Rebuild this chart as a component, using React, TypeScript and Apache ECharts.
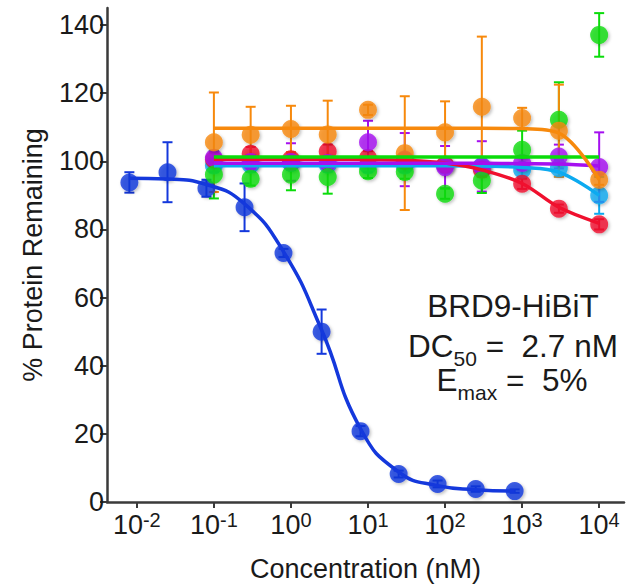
import React, { useEffect, useRef } from "react";
import * as echarts from "echarts";

// ---- data ----
const blueConc = [0.008, 0.025, 0.08, 0.25, 0.8, 2.5, 8, 25, 80, 250, 800];
const blueMean = [93.8, 96.8, 92.1, 86.5, 73.1, 50.0, 20.8, 8.2, 5.3, 3.8, 3.2];
const blueErr = [3, 8.8, 2.5, 7, 1.2, 6.5, 1.5, 1, 1, 0.8, 0.5];
const blueFit = [95.0, 94.8, 93.2, 87.5, 73.5, 50.5, 21.5, 8.8, 4.8, 3.6, 3.2];

const ctrlConc = [0.1, 0.3, 1, 3, 10, 30, 100, 300, 1000, 3000, 10000];

const cyanMean = [98.8, 99.0, 99.5, 99.0, 98.8, 98.8, 98.8, 98.6, 97.5, 98.0, 90.0];
const cyanErr = [2, 2, 2, 2, 2, 2, 2, 2, 2, 2.5, 5.4];
const cyanFit = [98.7, 98.7, 98.7, 98.7, 98.7, 98.7, 98.7, 98.6, 98.2, 96.8, 90.0];

const redMean = [100.5, 102.2, 100.6, 102.9, 101.0, 100.2, 99.0, 97.5, 93.4, 86.1, 81.5];
const redErr = [2, 2, 2, 2, 2, 2, 2, 2, 1.5, 1.2, 1.5];
const redFit = [100.6, 100.6, 100.6, 100.6, 100.5, 100.3, 99.5, 97.5, 93.5, 86.5, 81.8];

const purpleMean = [101.0, 99.8, 99.8, 99.5, 105.6, 100.5, 98.3, 98.5, 99.5, 101.4, 98.3];
const purpleErr = [2, 2, 5.5, 2, 6.3, 7.8, 6.2, 7.4, 2, 3.5, 10.2];
const purpleFit = [99.4, 99.4, 99.4, 99.4, 99.4, 99.4, 99.4, 99.4, 99.3, 99.2, 98.6];

const greenMean = [96.1, 94.9, 96.1, 95.4, 97.1, 96.9, 90.5, 94.4, 103.4, 112.2, 137.1];
const greenErr = [7, 2, 4.6, 4.9, 2, 2, 1.5, 3.7, 5.6, 11, 6.4];
const greenFit = [101.3, 101.3, 101.3, 101.3, 101.3, 101.3, 101.3, 101.3, 101.3, 101.3, 101.3];

const orangeMean = [105.6, 107.8, 109.5, 107.9, 115.1, 102.4, 108.5, 116.0, 112.7, 109.0, 94.6];
const orangeErr = [14.6, 8.2, 6.8, 9.9, 1.5, 16.7, 9.1, 20.6, 3, 13.5, 1.5];
const orangeFit = [109.7, 109.7, 109.7, 109.7, 109.7, 109.7, 109.7, 109.7, 109.6, 108.3, 94.6];

const xTicks = [0.01, 0.1, 1, 10, 100, 1000, 10000];
const yTicks = [0, 20, 40, 60, 80, 100, 120, 140];

const COLORS = {
  blue: "#1438dc",
  cyan: "#0caaf0",
  red: "#f0102e",
  purple: "#a50ff0",
  green: "#0adc0a",
  orange: "#f7890c",
};

const FONT = "'Liberation Sans', Arial, Helvetica, sans-serif";
const TEXT = "#1a1a1a";
const AXIS = "#3a3a3a";

function errorSeries(conc: number[], mean: number[], err: number[], color: string) {
  return {
    type: "custom",
    silent: true,
    data: conc.map((c, i) => [c, mean[i] - err[i], mean[i] + err[i]]),
    encode: { x: 0, y: [1, 2] },
    renderItem: (params: any, api: any) => {
      const x = api.value(0);
      const lo = api.coord([x, api.value(1)]);
      const hi = api.coord([x, api.value(2)]);
      const hw = 5;
      const style = { stroke: color, lineWidth: 2, fill: "none" };
      return {
        type: "group",
        children: [
          { type: "line", shape: { x1: lo[0], y1: lo[1], x2: hi[0], y2: hi[1] }, style },
          { type: "line", shape: { x1: lo[0] - hw, y1: lo[1], x2: lo[0] + hw, y2: lo[1] }, style },
          { type: "line", shape: { x1: hi[0] - hw, y1: hi[1], x2: hi[0] + hw, y2: hi[1] }, style },
        ],
      };
    },
  };
}

function fitSeries(conc: number[], fit: number[], color: string, smooth: number | false) {
  return {
    type: "line",
    silent: true,
    showSymbol: false,
    symbol: "none",
    smooth,
    data: conc.map((c, i) => [c, fit[i]]),
    lineStyle: { color, width: 3.5 },
  };
}

function pointSeries(conc: number[], mean: number[], color: string) {
  return {
    type: "scatter",
    silent: true,
    symbol: "circle",
    symbolSize: 18,
    data: conc.map((c, i) => [c, mean[i]]),
    itemStyle: {
      color,
      shadowBlur: 3,
      shadowOffsetX: 1.5,
      shadowOffsetY: 1.5,
      shadowColor: "rgba(0,0,0,0.3)",
    },
  };
}

function group(conc: number[], mean: number[], err: number[], fit: number[], color: string, smooth: number | false = 0.35) {
  return [
    errorSeries(conc, mean, err, color),
    fitSeries(conc, fit, color, smooth),
    pointSeries(conc, mean, color),
  ];
}

const annotRich = {
  a: { fontFamily: FONT, fontSize: 31.5, fill: TEXT },
  sub: { fontFamily: FONT, fontSize: 21, fill: TEXT, padding: [24, 0, 0, 0] },
};

export default function App() {
  const ref = useRef<HTMLDivElement>(null);

  useEffect(() => {
    if (!ref.current) return;
    const chart = echarts.init(ref.current, undefined, { renderer: "svg" });
    const option: any = {
      animation: false,
      backgroundColor: "#ffffff",
      grid: { left: 107, right: 2, top: 8, bottom: 84, containLabel: false },
      xAxis: {
        type: "log",
        logBase: 10,
        min: 0.0041,
        max: 21000,
        name: "Concentration (nM)",
        nameLocation: "middle",
        nameGap: 53,
        nameTextStyle: { fontFamily: FONT, fontSize: 27, color: TEXT },
        axisLine: { show: true, onZero: false, lineStyle: { color: AXIS, width: 2.5 } },
        axisTick: { show: true, customValues: xTicks, length: 6, lineStyle: { color: AXIS, width: 2 } },
        minorTick: { show: false },
        splitLine: { show: false },
        axisLabel: {
          customValues: xTicks,
          margin: 8,
          formatter: (v: number) => `{b|10}{s|${Math.round(Math.log10(v))}}`,
          rich: {
            b: { fontFamily: FONT, fontSize: 27, color: TEXT, lineHeight: 30 },
            s: { fontFamily: FONT, fontSize: 20, color: TEXT, lineHeight: 16, verticalAlign: "top" },
          },
        },
      },
      yAxis: {
        type: "value",
        min: 0,
        max: 145,
        name: "% Protein Remaining",
        nameLocation: "middle",
        nameGap: 61,
        nameTextStyle: { fontFamily: FONT, fontSize: 27, color: TEXT },
        axisLine: { show: true, lineStyle: { color: AXIS, width: 2.5 } },
        axisTick: { show: true, customValues: yTicks, length: 7, lineStyle: { color: AXIS, width: 2 } },
        splitLine: { show: false },
        axisLabel: {
          customValues: yTicks,
          margin: 3,
          fontFamily: FONT,
          fontSize: 27,
          color: TEXT,
        },
      },
      graphic: [
        {
          type: "text",
          x: 513,
          y: 306,
          style: {
            text: "BRD9-HiBiT",
            fontFamily: FONT,
            fontSize: 31.5,
            fill: TEXT,
            align: "center",
            verticalAlign: "middle",
          },
        },
        {
          type: "text",
          x: 513,
          y: 346,
          style: {
            text: "{a|DC}{sub|50}{a| =  2.7 nM}",
            fontFamily: FONT,
            fontSize: 31.5,
            fill: TEXT,
            align: "center",
            verticalAlign: "middle",
            rich: annotRich,
          },
        },
        {
          type: "text",
          x: 512,
          y: 380,
          style: {
            text: "{a|E}{sub|max}{a| =  5%}",
            fontFamily: FONT,
            fontSize: 31.5,
            fill: TEXT,
            align: "center",
            verticalAlign: "middle",
            rich: annotRich,
          },
        },
      ],
      series: [
        ...group(blueConc, blueMean, blueErr, blueFit, COLORS.blue, 0.5),
        ...group(ctrlConc, cyanMean, cyanErr, cyanFit, COLORS.cyan),
        ...group(ctrlConc, redMean, redErr, redFit, COLORS.red),
        ...group(ctrlConc, purpleMean, purpleErr, purpleFit, COLORS.purple),
        ...group(ctrlConc, greenMean, greenErr, greenFit, COLORS.green, false),
        ...group(ctrlConc, orangeMean, orangeErr, orangeFit, COLORS.orange),
      ],
    };
    chart.setOption(option);
    return () => chart.dispose();
  }, []);

  return (
    <div
      ref={ref}
      style={{ position: "fixed", left: 0, top: 0, width: 626, height: 587, background: "#fff" }}
    />
  );
}
